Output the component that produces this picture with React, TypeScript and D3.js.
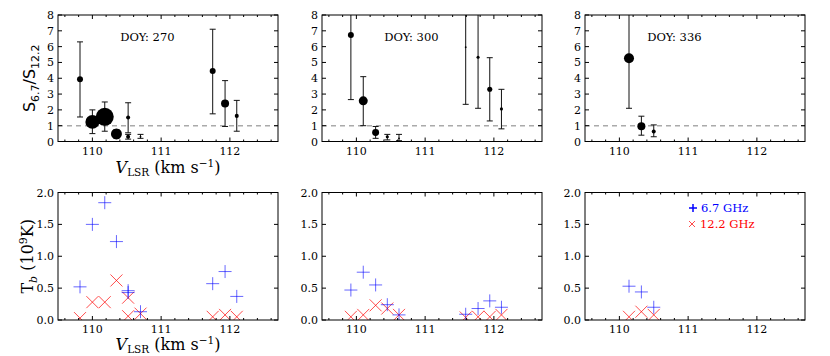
import React from 'react';
import * as d3 from 'd3';

// velocity channels (km/s) and ratios
const vel270 = [109.82, 110.0, 110.18, 110.35, 110.52, 110.52, 110.7, 111.75, 111.93, 112.1];
const ratio270 = [3.94, 1.24, 1.56, 0.48, 1.52, 0.3, 0.3, 4.46, 2.4, 1.62];
const lo270 = [1.55, 0.5, 0.65, 0.2, 0.55, 0.15, 0.2, 1.75, 0.95, 0.65];
const hi270 = [6.3, 2.0, 2.5, 0.75, 2.45, 0.45, 0.45, 7.1, 3.85, 2.6];
const flux270 = [11, 60, 100, 37, 5, 5, 1, 11, 20, 5];

const vel300 = [109.92, 110.1, 110.28, 110.45, 110.62, 111.59, 111.77, 111.94, 112.11];
const ratio300 = [6.74, 2.57, 0.57, 0.3, 0.2, 5.96, 5.33, 3.3, 2.06];
const lo300 = [2.65, 1.0, 0.2, 0.1, 0.05, 2.35, 2.1, 1.3, 0.8];
const hi300 = [9, 4.1, 0.95, 0.45, 0.45, 9, 9, 5.3, 3.3];
const flux300 = [11, 25, 15, 3, 1, 1, 3, 8, 3];

const vel336 = [110.14, 110.32, 110.5];
const ratio336 = [5.26, 0.97, 0.63];
const lo336 = [2.1, 0.4, 0.3];
const hi336 = [9, 1.6, 1.05];
const flux336 = [31, 20, 5];

// brightness temperatures (1e9 K)
const tb67_270 = [0.52, 1.5, 1.84, 1.23, 0.46, 0.43, 0.13, 0.57, 0.76, 0.37];
const tb122_270 = [0.03, 0.28, 0.28, 0.62, 0.35, 0.06, 0.1, 0.05, 0.08, 0.05];
const tb67_300 = [0.47, 0.75, 0.55, 0.24, 0.08, 0.09, 0.18, 0.3, 0.2];
const tb122_300 = [0.05, 0.08, 0.23, 0.18, 0.08, 0.04, 0.05, 0.05, 0.08];
const tb67_336 = [0.53, 0.44, 0.2];
const tb122_336 = [0.05, 0.13, 0.08];

const days = ['270', '300', '336'];
const xTicks = [110, 111, 112];
const ratioTicks = [0, 1, 2, 3, 4, 5, 6, 7, 8];
const tbTicks = ['0.0', '0.5', '1.0', '1.5', '2.0'];

const epochs = [
  { vel: vel270, ratio: ratio270, lo: lo270, hi: hi270, flux: flux270, b: tb67_270, r: tb122_270 },
  { vel: vel300, ratio: ratio300, lo: lo300, hi: hi300, flux: flux300, b: tb67_300, r: tb122_300 },
  { vel: vel336, ratio: ratio336, lo: lo336, hi: hi336, flux: flux336, b: tb67_336, r: tb122_336 },
];

const SERIF = 'DejaVu Serif';
const lefts = [58, 322, 585];
const W = 220;
const TOP = [15, 141.5];
const BOT = [192.5, 320];

const rScale = d3.scaleSqrt().domain([0, 100]).range([0, 9]);

function Frame({ x, y, tickVals, tickLabels }: any) {
  const minor = d3.range(109.6, 112.7, 0.2).filter((v) => Math.abs(v - Math.round(v)) > 0.05);
  return (
    <g>
      <rect x={x.range()[0]} y={y.range()[1]} width={W} height={y.range()[0] - y.range()[1]}
        fill="none" stroke="#000" strokeWidth={1} />
      {xTicks.map((t) => (
        <g key={t}>
          <line x1={x(t)} x2={x(t)} y1={y.range()[0]} y2={y.range()[0] - 4} stroke="#000" />
          <line x1={x(t)} x2={x(t)} y1={y.range()[1]} y2={y.range()[1] + 4} stroke="#000" />
          <text x={x(t)} y={y.range()[0] + 13} textAnchor="middle" fontSize={11} fontFamily={SERIF}>{t}</text>
        </g>
      ))}
      {minor.map((t, i) => (
        <g key={i}>
          <line x1={x(t)} x2={x(t)} y1={y.range()[0]} y2={y.range()[0] - 2} stroke="#000" />
          <line x1={x(t)} x2={x(t)} y1={y.range()[1]} y2={y.range()[1] + 2} stroke="#000" />
        </g>
      ))}
      {tickVals.map((t: number, i: number) => (
        <g key={i}>
          <line x1={x.range()[0]} x2={x.range()[0] + 4} y1={y(t)} y2={y(t)} stroke="#000" />
          <line x1={x.range()[1]} x2={x.range()[1] - 4} y1={y(t)} y2={y(t)} stroke="#000" />
          <text x={x.range()[0] - 4} y={y(t) + 4} textAnchor="end" fontSize={11} fontFamily={SERIF}>{tickLabels[i]}</text>
        </g>
      ))}
    </g>
  );
}

function RatioPanel({ ep, idx }: any) {
  const x = d3.scaleLinear().domain([109.5, 112.7]).range([lefts[idx], lefts[idx] + W]);
  const y = d3.scaleLinear().domain([0, 8]).range([TOP[1], TOP[0]]);
  const clip = `clipTop${idx}`;
  return (
    <g>
      <clipPath id={clip}>
        <rect x={x.range()[0]} y={TOP[0]} width={W} height={TOP[1] - TOP[0]} />
      </clipPath>
      <g clipPath={`url(#${clip})`}>
        <line x1={x.range()[0]} x2={x.range()[1]} y1={y(1)} y2={y(1)} stroke="#aaa" strokeWidth={1.5} strokeDasharray="5,4" />
        {ep.vel.map((v: number, i: number) => (
          <g key={i}>
            <line x1={x(v)} x2={x(v)} y1={y(ep.lo[i])} y2={y(ep.hi[i])} stroke="#111" strokeWidth={1} />
            <line x1={x(v) - 3} x2={x(v) + 3} y1={y(ep.lo[i])} y2={y(ep.lo[i])} stroke="#111" strokeWidth={1} />
            <line x1={x(v) - 3} x2={x(v) + 3} y1={y(ep.hi[i])} y2={y(ep.hi[i])} stroke="#111" strokeWidth={1} />
            <circle cx={x(v)} cy={y(ep.ratio[i])} r={rScale(ep.flux[i])} fill="#000" />
          </g>
        ))}
      </g>
      <Frame x={x} y={y} tickVals={ratioTicks} tickLabels={ratioTicks.map(String)} />
      <text x={x(110.8)} y={41} textAnchor="middle" fontSize={11.5} fontFamily={SERIF}>DOY: {days[idx]}</text>
    </g>
  );
}

function plus(cx: number, cy: number, s: number) {
  return `M${cx - s},${cy}H${cx + s}M${cx},${cy - s}V${cy + s}`;
}
function cross(cx: number, cy: number, s: number) {
  return `M${cx - s},${cy - s}L${cx + s},${cy + s}M${cx - s},${cy + s}L${cx + s},${cy - s}`;
}

function TbPanel({ ep, idx }: any) {
  const x = d3.scaleLinear().domain([109.5, 112.7]).range([lefts[idx], lefts[idx] + W]);
  const y = d3.scaleLinear().domain([0, 2]).range([BOT[1], BOT[0]]);
  const clip = `clipBot${idx}`;
  return (
    <g>
      <clipPath id={clip}>
        <rect x={x.range()[0]} y={BOT[0]} width={W} height={BOT[1] - BOT[0]} />
      </clipPath>
      <g clipPath={`url(#${clip})`}>
        {ep.vel.map((v: number, i: number) => (
          <path key={'r' + i} d={cross(x(v), y(ep.r[i]), 6)} stroke="#ff0000" strokeOpacity={0.7} strokeWidth={1} fill="none" />
        ))}
        {ep.vel.map((v: number, i: number) => (
          <path key={'b' + i} d={plus(x(v), y(ep.b[i]), 6.5)} stroke="#0000ff" strokeOpacity={0.6} strokeWidth={1} fill="none" />
        ))}
      </g>
      <Frame x={x} y={y} tickVals={tbTicks.map(Number)} tickLabels={tbTicks} />
    </g>
  );
}

function XLabel({ cx, y }: any) {
  return (
    <text x={cx} y={y} textAnchor="middle" fontSize={16} fontFamily={SERIF}>
      <tspan fontStyle="italic">V</tspan>
      <tspan fontSize={10.5} dy={3}>LSR</tspan>
      <tspan dy={-3}> (km s</tspan>
      <tspan fontSize={10.5} dy={-6}>−1</tspan>
      <tspan dy={6}>)</tspan>
    </text>
  );
}

export default function App() {
  return (
    <svg width={830} height={356} style={{ position: 'absolute', left: 0, top: 0, background: '#fff' }}>
      {epochs.map((ep, i) => (
        <RatioPanel key={'t' + i} ep={ep} idx={i} />
      ))}
      {epochs.map((ep, i) => (
        <TbPanel key={'b' + i} ep={ep} idx={i} />
      ))}
      <text transform={`translate(35,${(TOP[0] + TOP[1]) / 2}) rotate(-90)`} textAnchor="middle" fontSize={16} fontFamily="DejaVu Sans">
        <tspan>S</tspan>
        <tspan fontSize={11} dy={4}>6.7</tspan>
        <tspan dy={-4}>/S</tspan>
        <tspan fontSize={11} dy={4}>12.2</tspan>
      </text>
      <text transform={`translate(33,${(BOT[0] + BOT[1]) / 2}) rotate(-90)`} textAnchor="middle" fontSize={16} fontFamily={SERIF}>
        <tspan>T</tspan>
        <tspan fontSize={11} fontStyle="italic" dy={4}>b</tspan>
        <tspan dy={-4}> (10</tspan>
        <tspan fontSize={11} dy={-6}>9</tspan>
        <tspan dy={6}>K)</tspan>
      </text>
      <XLabel cx={168} y={173} />
      <XLabel cx={168} y={350} />
      <path d={plus(693, 208, 4)} stroke="#0000ff" strokeWidth={1.5} fill="none" />
      <text x={701} y={212} fontSize={11.5} fontFamily={SERIF} fill="#0000ff">6.7 GHz</text>
      <path d={cross(692, 224, 3)} stroke="#ff0000" strokeOpacity={0.7} strokeWidth={1} fill="none" />
      <text x={700} y={228} fontSize={11.5} fontFamily={SERIF} fill="#ff0000">12.2 GHz</text>
    </svg>
  );
}
